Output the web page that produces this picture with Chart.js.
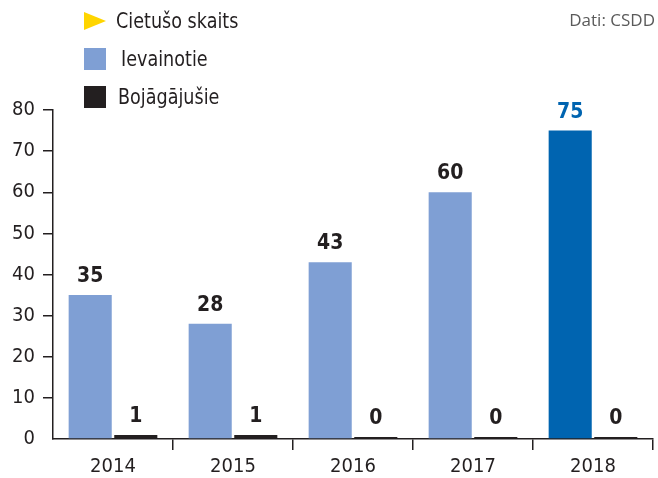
<!DOCTYPE html>
<html>
<head>
<meta charset="utf-8">
<script src="https://cdn.jsdelivr.net/npm/chart.js@4"></script>
<style>
  body { margin: 0; background: #fff; }
  #wrap { position: relative; width: 658px; height: 478px; }
  .legend { position: absolute; left: 84px; top: 0; font-family: "DejaVu Sans", sans-serif; font-size: 22px; color: #231f20; }
  .legend div { position: absolute; white-space: nowrap; height: 26px; line-height: 26px; }
  .legend .txt { display: inline-block; transform: scaleX(0.8); transform-origin: left center; vertical-align: middle; }
  .sw { display: inline-block; width: 22px; height: 22px; vertical-align: middle; margin-right: 12px; }
  .tri { display: inline-block; width: 0; height: 0; border-top: 9px solid transparent; border-bottom: 9px solid transparent; border-left: 22px solid #ffd500; vertical-align: middle; margin-right: 10px; }
  #source { position: absolute; right: 3px; top: 8px; font-family: "Open Sans", sans-serif; font-size: 17px; color: #5a5a5a; }
</style>
</head>
<body>
<div id="wrap">
  <canvas id="chart1" width="658" height="478"></canvas>
  <div class="legend">
    <div style="top:7px"><span class="tri"></span><span class="txt">Cietušo skaits</span></div>
    <div style="top:45px"><span class="sw" style="background:#7f9fd4"></span><span class="txt" style="margin-left:3px">Ievainotie</span></div>
    <div style="top:83px"><span class="sw" style="background:#231f20"></span><span class="txt">Bojāgājušie</span></div>
  </div>
  <div id="source">Dati: CSDD</div>
</div>
<script>
const years = ['2014', '2015', '2016', '2017', '2018'];
const injured = [35, 28, 43, 60, 75];
const killed = [1, 1, 0, 0, 0];
const yTicks = [0, 10, 20, 30, 40, 50, 60, 70, 80];

const lightBlue = '#7f9fd4';
const darkBlue = '#0064b0';
const ink = '#231f20';
const narrow = '"DejaVu Sans Condensed", sans-serif';

// value labels above the bars
const barLabels = {
    id: 'barLabels',
    afterDatasetsDraw(chart) {
        const c = chart.ctx;
        c.save();
        c.font = 'bold 21px ' + narrow;
        c.textAlign = 'center';
        c.textBaseline = 'bottom';
        chart.data.datasets.forEach((ds, i) => {
            chart.getDatasetMeta(i).data.forEach((bar, j) => {
                c.fillStyle = (i === 0 && j === 4) ? darkBlue : ink;
                c.fillText(ds.data[j], bar.x, bar.y - 8);
            });
        });
        c.restore();
    }
};

const ctx = document.getElementById('chart1').getContext('2d');
const chart1 = new Chart(ctx, {
    type: 'bar',
    data: {
        labels: years,
        datasets: [
            {
                label: 'Ievainotie',
                data: injured,
                backgroundColor: injured.map((v, i) => i === 4 ? darkBlue : lightBlue),
            },
            {
                label: 'Bojāgājušie',
                data: killed,
                backgroundColor: ink,
                minBarLength: 2,
            }
        ]
    },
    options: {
        responsive: false,
        animation: false,
        categoryPercentage: 0.76,
        barPercentage: 0.945,
        layout: { padding: { top: 110, right: 5, left: 0, bottom: 0 } },
        scales: {
            y: {
                min: 0,
                max: 80,
                afterBuildTicks: (s) => { s.ticks = yTicks.map(v => ({ value: v })); },
                afterFit: (s) => { s.width = 53; },
                border: { color: ink, width: 1.5 },
                grid: {
                    drawOnChartArea: false,
                    tickLength: 10,
                    color: (c) => c.tick && c.tick.value === 0 ? 'rgba(0,0,0,0)' : ink,
                    lineWidth: 1.5,
                },
                ticks: { color: ink, font: { family: narrow, size: 20 }, padding: 8 }
            },
            x: {
                afterFit: (s) => { s.height = 39; },
                border: { color: ink, width: 1.5 },
                grid: {
                    drawOnChartArea: false,
                    tickLength: 11,
                    color: (c) => c.index === 0 ? 'rgba(0,0,0,0)' : ink,
                    lineWidth: 1.5,
                },
                ticks: { color: ink, font: { family: narrow, size: 20 }, padding: 5 }
            }
        },
        plugins: {
            legend: { display: false },
            tooltip: { enabled: false }
        }
    },
    plugins: [barLabels]
});
</script>
</body>
</html>
